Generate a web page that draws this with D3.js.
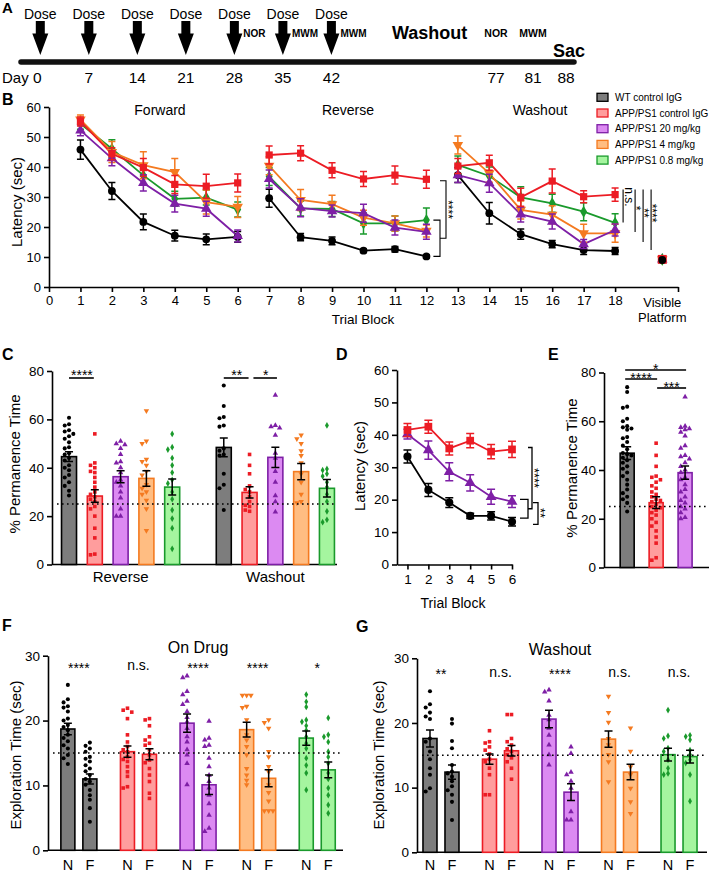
<!DOCTYPE html>
<html><head><meta charset="utf-8">
<script src="https://cdn.jsdelivr.net/npm/d3@7"></script>
<style>body{margin:0;background:#fff}</style>
</head><body>
<svg id="c" width="709" height="874"></svg>
<script>
// ================= DATA =================
const groupNames = ["WT control IgG","APP/PS1 control IgG","APP/PS1 20 mg/kg","APP/PS1 4 mg/kg","APP/PS1 0.8 mg/kg"];

// Panel A : timeline
const doseDays = [0,7,14,21,28,35,42];
const dayTicks = [0,7,14,21,28,35,42,77,81,88];
const onDrugTests = ["NOR","MWM","MWM"];
const onDrugTestDays = [28,35,42];
const washTests = ["NOR","MWM"];
const washTestDays = [77,81];

// Panel B : latency per trial block
const trialBlocks = [1,2,3,4,5,6,7,8,9,10,11,12,13,14,15,16,17,18];
const trialTicks = [0,1,2,3,4,5,6,7,8,9,10,11,12,13,14,15,16,17,18,20];
const latWT   = [45.8,32.0,21.7,17.1,15.9,16.7, 29.6,16.6,15.4,12.1,12.6,10.2, 37.3,24.6,17.6,14.3,12.3,12.0];
const latCtrl = [55.2,44.4,39.8,34.2,33.6,34.7, 44.0,44.6,38.9,36.0,37.3,35.9, 40.3,41.4,29.9,35.3,30.1,30.8];
const lat20   = [52.2,42.9,34.7,27.8,26.1,17.0, 36.0,26.4,25.3,24.6,19.8,18.4, 37.3,34.6,24.2,21.8,14.3,19.0];
const lat4    = [55.8,45.0,40.6,38.3,28.3,26.7, 40.4,29.0,27.6,23.1,21.2,18.7, 47.3,37.9,25.7,24.1,17.9,17.9];
const lat08   = [54.4,46.1,37.2,29.4,29.8,25.8, 36.8,26.2,26.0,21.2,21.2,22.3, 40.7,37.0,29.9,27.9,25.1,21.4];
const semWT   = [3.2,2.8,2.6,1.8,1.8,1.8, 3.0,1.2,1.3,0.6,0.9,0.5, 2.5,3.6,1.7,1.2,1.5,1.2];
const semCtrl = [1.5,2.0,3.0,3.0,4.0,3.0, 3.0,2.5,2.5,2.5,3.0,3.0, 2.5,2.5,3.0,4.0,2.0,2.2];
const sem20   = [1.8,2.5,2.7,2.8,2.5,2.0, 3.0,3.0,2.0,3.0,2.5,2.5, 2.5,3.0,2.5,2.5,1.5,2.0];
const sem4    = [1.5,3.5,4.5,4.5,4.0,3.5, 3.0,3.5,3.0,2.5,2.5,2.0, 3.0,3.0,3.0,3.0,3.0,3.0];
const sem08   = [1.8,3.0,3.0,2.5,2.5,2.5, 3.0,2.5,2.5,3.5,2.5,4.0, 3.0,3.0,3.5,3.0,3.0,3.0];
const visiblePlatform = [9.0,9.2,9.2,9.2,9.2];
const bSessions = ["Forward","Reverse","Washout"];
const bSessionBlocks = [[1,6],[7,12],[13,18]];
const bWashSig = ["n.s.","*","**","****"];

// Panel C : % permanence time
const cPhases = ["Reverse","Washout"];
const cMeansRev  = [44.6,28.3,36.3,35.6,32.0];
const cSemRev    = [2.0,2.6,2.5,3.2,3.3];
const cMeansWash = [48.4,29.8,44.3,38.4,31.5];
const cSemWash   = [3.9,2.3,4.2,3.4,3.6];
const cPtsRev = [
  [60.7,58,57.5,55.5,55,54,53,52,50.5,48.5,48,46,45.5,44,43,41,40,39,37,36,34,32.5,30.5,28.5],
  [54,42,41,40,38.5,38,36,34,32,30,29,28,27,26,24,23,20,15,11,4.3,4],
  [51,50,49.5,48,45.5,42.5,42,40,38,35,34,32.5,30,27.5,23,20,20],
  [63.5,51,50,43.5,42.5,41,38.5,37,33,31.5,30,29,26.5,23,14],
  [54,48.5,47.5,44,41,38,35,33.5,30,27,22.5,19,15,6.5]
];
const cPtsWash = [
  [74,65.5,61,60.5,57.5,57,48,47,45.5,45,37.5,33,31.5,22.5],
  [45.5,41,37.5,32.5,31,30,28,26,24.5,24,22.5,22],
  [70,57.5,57,56.5,53.5,46,44,38.5,34,28.5,26,21.7],
  [53.5,52,50,47,45,42,37.5,34,29,26,25.5],
  [57.5,39.5,39,37.5,36.5,34,32,29,26,22,18.5,17.5]
];

// Panel D : latency (3 groups)
const dBlocks = [1,2,3,4,5,6];
const dWT   = [33.3,23.0,19.1,15.0,15.0,13.2];
const dCtrl = [41.5,42.5,35.8,38.2,34.8,35.5];
const d20   = [40.2,35.3,28.6,25.2,20.9,19.4];
const dSemWT   = [2.0,2.0,1.5,0.8,1.3,1.3];
const dSemCtrl = [2.0,2.0,2.0,2.2,2.2,2.5];
const dSem20   = [1.5,2.8,2.8,2.5,2.3,1.8];

// Panel E : % permanence time (3 groups)
const eMeans = [46.9,26.6,38.9];
const eSem   = [2.6,2.4,2.7];
const ePts = [
  [74,72,66,65.5,61,60,58,57.5,57,56.5,53.5,53,51.5,50,48.5,47,46.5,46,45,44,43,41.5,40.5,39,37.5,36,34,32,30.5,29,28,26.5,23],
  [51,46,41.5,37.5,37,36,35,33.5,32.5,31,30,29,28,27.5,27,26,25,24.5,23.5,22.5,21.5,20,18.5,17,15,12.5,10,4,3],
  [70,58,57.5,57,56.5,55.5,54,50,49,46,45.5,44.5,43,41.5,40,39,37,36,34,32,31,29,27.5,26.5,25,24,22.5,20.5,20]
];
const eSig = ["*","****","***"];

// Panels F and G : exploration time, N (novel) / F (familiar)
const objLabels = ["N","F"];
const fMeansN = [18.7,15.2,19.6,18.6,17.3];
const fMeansF = [11.0,14.8,10.1,11.1,12.4];
const fSemN = [0.9,0.87,1.4,1.15,1.1];
const fSemF = [0.77,0.85,1.5,1.3,1.2];
const fSig = ["****","n.s.","****","****","*"];
const fPtsN = [
  [25.5,23.3,22.8,22.2,22,21.4,20.3,20,19.3,19,18.5,17.8,17.3,16.8,16.2,15.7,14.7,14.2,13.3],
  [21.9,21.6,21.3,20.3,17.8,16.7,16,15.5,15.2,14.4,14,13.7,12.9,12.1,11.4,9.8,9.6],
  [26.9,26.6,24.5,24,23,22.5,21.4,20.5,19.8,18.8,17.5,16.7,15.5,14.7,13.4,10.1],
  [23.9,23.9,23.9,22.2,22,20.1,17.8,17,16,14.7,12.6,11.6,10.8,10.1],
  [24,22.9,22.1,20.1,19.8,19.2,18.5,17.5,16.5,15.7,14.2,13.1,11.9,9.3]
];
const fPtsF = [
  [16.6,16.1,15.7,15.2,14.4,14.1,13.7,13.1,12.6,12.2,11.6,11,10.6,10.1,9.3,8.5,7.8,6.5,4.4],
  [20.3,20.1,19.2,17.5,17,16.5,16.2,15.5,14.7,13.9,13.5,12.6,11.6,10.6,8.8,8],
  [19.9,17.3,17,16.2,16,14.2,12.9,11.6,10.6,9.6,8.5,7.2,5.4,3.4,2.9],
  [20.1,19.7,18.8,15.2,14.4,12.9,12.1,10.1,8.9,7.6,6.1,6.1,6.1],
  [20.4,17.8,17.5,16.7,15.2,14.4,13.4,11.9,11,9.6,8.5,7,5.7]
];
const gMeansN = [17.6,14.4,20.6,17.5,15.1];
const gMeansF = [12.4,15.7,9.3,12.4,14.8];
const gSemN = [1.3,0.8,1.35,1.25,1.0];
const gSemF = [1.1,0.8,1.3,1.2,1.0];
const gSig = ["**","n.s.","****","n.s.","n.s."];
const gPtsN = [
  [24.9,22.9,22.4,21.6,21,20.6,17.6,17.1,15.6,14.4,13,12,9.9,9.4],
  [18.8,17.1,16.9,16.3,15.8,15.2,14.4,14,13,12,8.9,8.9],
  [25.1,24.8,23.4,21.2,20.5,19.2,18.1,16.6,15.1,13.5],
  [24.1,21.6,20.1,17.6,16.6,15.1,14,10.9],
  [22,18,17.6,16.1,15.6,14.3,13,12.2,12]
];
const gPtsF = [
  [20.6,19.9,17.2,16.1,13.5,12.5,12.2,11.7,11,10.2,9.6,8.9,7.8,5],
  [21.3,21.3,17.6,17.1,16.6,16,15.6,15.1,14.6,14,13,11.3],
  [16.3,15.3,12.4,12,11,9.9,6.3,5,5],
  [19.2,15.6,13.2,12,9.9,7.8,6],
  [18.1,17.9,17.4,15.8,15.1,14.3,13.8,12,7.9]
];

// ================= STYLE =================
const FONT = '"Liberation Sans", Arial, Helvetica, sans-serif';
const strokeCol = ["#000000","#ec1c24","#7e1fa6","#f47a20","#1a9a2c"];
const fillCol   = ["#7d7d7d","#ff9d9d","#dc8af2","#ffbd82","#a5f59f"];
const symTypes = [d3.symbolCircle, d3.symbolSquare, d3.symbolTriangle, d3.symbolTriangle, d3.symbolDiamond];
const symRot = [0,0,0,180,0];

const svg = d3.select("#c").attr("font-family", FONT);

function text(g, x, y, s, o = {}) {
  const t = g.append("text").attr("x", x).attr("y", y).text(s)
    .attr("font-size", o.size || 13).attr("text-anchor", o.anchor || "middle")
    .attr("font-weight", o.weight || "normal").attr("fill", o.fill || "#000");
  if (o.rot !== undefined) t.attr("transform", `rotate(${o.rot},${x},${y})`);
  return t;
}
function sym(g, gi, x, y, size) {
  g.append("path").attr("d", d3.symbol().type(symTypes[gi]).size(size)())
    .attr("transform", `translate(${x},${y}) rotate(${symRot[gi]})`)
    .attr("fill", strokeCol[gi]);
}
function styleAxis(sel, fs) {
  sel.attr("font-family", FONT).attr("font-size", fs);
  sel.select(".domain").attr("stroke", "#000").attr("stroke-width", 1.6);
  sel.selectAll(".tick line").attr("stroke", "#000").attr("stroke-width", 1.6);
  sel.selectAll(".tick text").attr("fill", "#000");
}
function errBar(g, x, y, lo, hi, cap, color, w) {
  const p = `M${x - cap / 2},${y(hi)}H${x + cap / 2}M${x},${y(hi)}V${y(lo)}M${x - cap / 2},${y(lo)}H${x + cap / 2}`;
  g.append("path").attr("d", p).attr("stroke", color).attr("stroke-width", w || 1.5).attr("fill", "none");
}
function swarm(vals, y, cx, r, half) {
  const pts = vals.map(v => ({ v, y: y(v) })).sort((a, b) => a.y - b.y);
  const offs = [0];
  for (let k = 1; k * r <= half + 0.01; k++) offs.push(-k * r, k * r);
  const placed = [];
  for (const p of pts) {
    let best = null;
    for (const o of offs) {
      const x = cx + o;
      if (placed.every(q => (q.x - x) ** 2 + (q.y - p.y) ** 2 >= r * r * 0.9)) { best = x; break; }
    }
    if (best === null) {
      let bo = 0, bd = -1;
      for (const o of offs) {
        const x = cx + o;
        const d = Math.min(...placed.map(q => (q.x - x) ** 2 + (q.y - p.y) ** 2));
        if (d > bd) { bd = d; bo = o; }
      }
      best = cx + bo;
    }
    p.x = best; placed.push(p);
  }
  return placed;
}
function bar(g, gi, x, y, mean, sem, pts, bw) {
  g.append("rect").attr("x", x - bw / 2).attr("y", y(mean)).attr("width", bw)
    .attr("height", y(0) - y(mean)).attr("fill", fillCol[gi])
    .attr("stroke", strokeCol[gi]).attr("stroke-width", 1.6);
  swarm(pts, y, x, 4.3, bw / 2 + 1.5).forEach(p => sym(g, gi, p.x, p.y, 13));
  errBar(g, x, y, mean - sem, mean + sem, 8, "#000", 1.5);
}
function dotted(g, x1, x2, yv) {
  g.append("line").attr("x1", x1).attr("x2", x2).attr("y1", yv).attr("y2", yv)
    .attr("stroke", "#000").attr("stroke-width", 1.6).attr("stroke-dasharray", "1.6,3.4");
}
function pathD(g, d, w) {
  g.append("path").attr("d", d).attr("stroke", "#000").attr("stroke-width", w || 1.1).attr("fill", "none");
}

// ================= PANEL A =================
{
  const g = svg.append("g");
  const xA = d3.scaleLinear().domain([0, 42, 77, 81, 88]).range([40.3, 331.4, 496, 533, 566]);
  text(g, 2, 13, "A", { size: 15, anchor: "start", weight: "bold" });
  g.append("line").attr("x1", 21).attr("x2", 574).attr("y1", 62).attr("y2", 62)
    .attr("stroke", "#111").attr("stroke-width", 5.5).attr("stroke-linecap", "round");
  doseDays.forEach(d => {
    const x = xA(d);
    text(g, x, 19, "Dose", { size: 14 });
    g.append("path").attr("d", `M${x - 4.5},21H${x + 4.5}V33.5H${x + 8}L${x},55L${x - 8},33.5H${x - 4.5}Z`).attr("fill", "#000");
  });
  onDrugTests.forEach((s, i) => text(g, xA(onDrugTestDays[i]) + 9, 37, s, { size: 10, anchor: "start", weight: "bold" }));
  washTests.forEach((s, i) => text(g, xA(washTestDays[i]), 37, s, { size: 10.5, weight: "bold" }));
  text(g, (xA(42) + xA(77)) / 2 + 16, 38.5, "Washout", { size: 18, weight: "bold" });
  text(g, xA(88) + 3, 57, "Sac", { size: 18, weight: "bold" });
  text(g, 2, 83, "Day", { size: 15, anchor: "start" });
  dayTicks.forEach(d => text(g, d === 0 ? xA(d) - 3 : xA(d), 83, String(d), { size: 15.5 }));
}

// ================= PANEL B =================
{
  const g = svg.append("g");
  const x = d3.scaleLinear().domain([0, 20]).range([49, 678]);
  const y = d3.scaleLinear().domain([0, 60]).range([287, 107]);
  text(g, 2, 105, "B", { size: 16, anchor: "start", weight: "bold" });
  const ax = g.append("g").attr("transform", "translate(0,287)")
    .call(d3.axisBottom(x).tickValues(trialTicks).tickFormat(d => d === 20 ? "" : d).tickSize(5).tickSizeOuter(0).tickPadding(4));
  styleAxis(ax, 13);
  const ay = g.append("g").attr("transform", "translate(49,0)")
    .call(d3.axisLeft(y).ticks(6).tickSize(5).tickSizeOuter(0).tickPadding(3));
  styleAxis(ay, 13);
  text(g, x(19.5), 307, "Visible", { size: 13 });
  text(g, x(19.5), 322, "Platform", { size: 13 });
  text(g, 363, 324, "Trial Block", { size: 13.5 });
  text(g, 22, 202, "Latency (sec)", { size: 15, rot: -90 });
  const sessX = [160, 348, 540];
  bSessions.forEach((s, i) => text(g, sessX[i], 115, s, { size: 14 }));

  const series = [latWT, latCtrl, lat20, lat4, lat08];
  const sems = [semWT, semCtrl, sem20, sem4, sem08];
  const order = [0, 4, 3, 2, 1];
  const line = d3.line().x(d => x(d[0])).y(d => y(d[1]));
  order.forEach(gi => {
    bSessionBlocks.forEach(([a, b]) => {
      const seg = trialBlocks.map((t, i) => [t, series[gi][i]]).filter(d => d[0] >= a && d[0] <= b);
      g.append("path").attr("d", line(seg)).attr("stroke", strokeCol[gi]).attr("stroke-width", 1.8).attr("fill", "none");
    });
  });
  order.forEach(gi => {
    trialBlocks.forEach((t, i) => {
      const v = series[gi][i], s = sems[gi][i];
      errBar(g, x(t), y, v - s, v + s, 7, strokeCol[gi], 1.5);
      sym(g, gi, x(t), y(v), gi === 1 ? 52 : (gi === 4 ? 42 : 48));
    });
  });
  [2, 3, 4, 1, 0].forEach(gi => sym(g, gi, x(19.5), y(visiblePlatform[gi]), gi === 1 ? 80 : 48));

  // brackets at block 12
  const x12 = x(12);
  const yS1 = y(lat08[11]), yS2 = y(latWT[11]);
  pathD(g, `M${x12 + 7},${yS1}H${x12 + 13.6}V${yS2}H${x12 + 7}`);
  const yMid = (yS1 + yS2) / 2;
  pathD(g, `M${x12 + 13.6},${y(35.4)}H${x12 + 19.6}V${yMid}H${x12 + 13.6}`);
  text(g, x12 + 18, (y(35.4) + yMid) / 2, "****", { size: 12, rot: 90 });
  // washout lines at block 18
  const x18 = x(18);
  const offs = [8, 20, 28, 36];
  const bottoms = [21.5, 18.3, 15.0, 12.3];
  const labY = [197, 208, 213, 213];
  offs.forEach((o, i) => {
    pathD(g, `M${x18 + o},${y(32.5)}V${y(bottoms[i])}`);
    text(g, x18 + o + (i === 0 ? 2 : -3), labY[i], bWashSig[i], { size: 12, rot: 90 });
  });

  // legend
  groupNames.forEach((n, i) => {
    const ly = 97.3 + i * 15.7;
    g.append("rect").attr("x", 597).attr("y", ly - 4).attr("width", 11).attr("height", 8)
      .attr("fill", fillCol[i]).attr("stroke", strokeCol[i]).attr("stroke-width", 1.3);
    text(g, 615, ly + 3.5, n, { size: 10, anchor: "start" });
  });
}

// ================= PANEL C =================
{
  const g = svg.append("g");
  const xs = d3.scaleLinear().domain([-0.66, 10.39]).range([52, 337]);
  const y = d3.scaleLinear().domain([0, 80]).range([564.5, 371]);
  text(g, 2, 360, "C", { size: 16, anchor: "start", weight: "bold" });
  g.append("line").attr("x1", 52).attr("x2", 337).attr("y1", 564.5).attr("y2", 564.5).attr("stroke", "#000").attr("stroke-width", 1.6);
  const ay = g.append("g").attr("transform", "translate(52,0)")
    .call(d3.axisLeft(y).tickValues([0, 20, 40, 60, 80]).tickSize(5).tickSizeOuter(0).tickPadding(3));
  styleAxis(ay, 13.5);
  text(g, 20, 464, "% Permanence Time", { size: 15, rot: -90 });
  cPhases.forEach((p, k) => {
    const means = k === 0 ? cMeansRev : cMeansWash;
    const sems = k === 0 ? cSemRev : cSemWash;
    const pts = k === 0 ? cPtsRev : cPtsWash;
    means.forEach((m, gi) => bar(g, gi, xs(k * 6 + gi), y, m, sems[gi], pts[gi], 15));
    text(g, xs(k * 6 + 2), 582, p, { size: 15 });
  });
  dotted(g, 57, 336, y(25));
  // significance
  const sigs = [["****", 0, 1], ["**", 6, 7], ["*", 7.15, 8.1]];
  sigs.forEach(([s, a, b]) => {
    const xa = xs(a), xb = xs(b);
    g.append("line").attr("x1", xa).attr("x2", xb - 1).attr("y1", 378).attr("y2", 378).attr("stroke", "#000").attr("stroke-width", 1.6);
    text(g, (xa + xb) / 2, 379.5, s, { size: 14 });
  });
}

// ================= PANEL D =================
{
  const g = svg.append("g");
  const x = d3.scaleLinear().domain([0.5, 6]).range([397, 512]);
  const y = d3.scaleLinear().domain([0, 60]).range([564.5, 370]);
  text(g, 336, 360, "D", { size: 16, anchor: "start", weight: "bold" });
  const ax = g.append("g").attr("transform", "translate(0,564.5)")
    .call(d3.axisBottom(x).tickValues(dBlocks).tickFormat(d3.format("d")).tickSize(5).tickSizeOuter(0).tickPadding(5));
  styleAxis(ax, 13.5);
  const ay = g.append("g").attr("transform", "translate(397,0)")
    .call(d3.axisLeft(y).ticks(6).tickSize(5).tickSizeOuter(0).tickPadding(3));
  styleAxis(ay, 13.5);
  text(g, 453, 608, "Trial Block", { size: 14 });
  text(g, 365, 466, "Latency (sec)", { size: 15, rot: -90 });
  const series = [dWT, dCtrl, d20];
  const sems = [dSemWT, dSemCtrl, dSem20];
  const line = d3.line().x((d, i) => x(dBlocks[i])).y(d => y(d));
  [0, 2, 1].forEach(gi => g.append("path").attr("d", line(series[gi])).attr("stroke", strokeCol[gi]).attr("stroke-width", 1.8).attr("fill", "none"));
  [0, 2, 1].forEach(gi => dBlocks.forEach((t, i) => {
    const v = series[gi][i];
    errBar(g, x(t), y, v - sems[gi][i], v + sems[gi][i], 8, strokeCol[gi], 1.5);
    sym(g, gi, x(t), y(v), gi === 1 ? 60 : 52);
  }));
  // brackets
  const yS1 = y(20.1), yS2 = y(14.3), yMid = (yS1 + yS2) / 2;
  pathD(g, `M520,${yS1}H528V${yS2}H520`, 1.3);
  pathD(g, `M528,${y(36.1)}H532V${yMid}H528`, 1.3);
  pathD(g, `M533,${y(19.1)}H538V${y(12.4)}H533`, 1.3);
  text(g, 530, 478, "****", { size: 13, rot: 90 });
  text(g, 536, 513, "**", { size: 13, rot: 90 });
}

// ================= PANEL E =================
{
  const g = svg.append("g");
  const xs = d3.scaleLinear().domain([-0.8, 2.86]).range([604, 710]);
  const y = d3.scaleLinear().domain([0, 80]).range([567.5, 372.5]);
  text(g, 548, 360, "E", { size: 16, anchor: "start", weight: "bold" });
  g.append("line").attr("x1", 604).attr("x2", 709).attr("y1", 567.5).attr("y2", 567.5).attr("stroke", "#000").attr("stroke-width", 1.6);
  const ay = g.append("g").attr("transform", "translate(604,0)")
    .call(d3.axisLeft(y).tickValues([0, 20, 40, 60, 80]).tickSize(5).tickSizeOuter(0).tickPadding(3));
  styleAxis(ay, 13.5);
  text(g, 577, 468, "% Permanence Time", { size: 15, rot: -90 });
  eMeans.forEach((m, gi) => bar(g, gi, xs(gi), y, m, eSem[gi], ePts[gi], 14));
  dotted(g, 609, 709, y(25));
  const sig = [[0, 2, 370, 374], [0, 1, 379, 383], [1, 2, 388, 392]];
  sig.forEach(([a, b, ly, ty], i) => {
    const xa = xs(a) - (a === 0 ? 2 : -1), xb = xs(b) + 1;
    g.append("line").attr("x1", xa).attr("x2", xb).attr("y1", ly).attr("y2", ly).attr("stroke", "#000").attr("stroke-width", 1.6);
    text(g, (xa + xb) / 2, ty, eSig[i], { size: 14 });
  });
}

// ================= PANELS F & G =================
function novelty(opts) {
  const g = svg.append("g");
  const xs = d3.scaleLinear().domain(opts.dom).range(opts.rng);
  const y = d3.scaleLinear().domain([0, 30]).range(opts.yr);
  text(g, opts.lx, opts.ly, opts.letter, { size: 16, anchor: "start", weight: "bold" });
  g.append("line").attr("x1", opts.rng[0]).attr("x2", opts.rng[1]).attr("y1", opts.yr[0]).attr("y2", opts.yr[0]).attr("stroke", "#000").attr("stroke-width", 1.6);
  const ay = g.append("g").attr("transform", `translate(${opts.rng[0]},0)`)
    .call(d3.axisLeft(y).tickValues([0, 10, 20, 30]).tickSize(5).tickSizeOuter(0).tickPadding(3));
  styleAxis(ay, 13.5);
  text(g, opts.ylx, 755, "Exploration Time (sec)", { size: 15, rot: -90 });
  text(g, xs(2), opts.titleY, opts.title, { size: 16 });
  const off = 11 / opts.step;
  opts.mN.forEach((m, gi) => {
    bar(g, gi, xs(gi - off), y, m, opts.sN[gi], opts.pN[gi], 14);
    bar(g, gi, xs(gi + off), y, opts.mF[gi], opts.sF[gi], opts.pF[gi], 14);
    text(g, xs(gi - off), 869.5, objLabels[0], { size: 14.5 });
    text(g, xs(gi + off), 869.5, objLabels[1], { size: 14.5 });
    const s = opts.sig[gi];
    text(g, xs(gi), s === "n.s." ? opts.nsY : opts.starY, s, { size: 14 });
  });
  dotted(g, opts.rng[0] + 5, opts.rng[1] - 2, y(15));
}
novelty({ letter: "F", lx: 2, ly: 631, dom: [-0.518, 4.432], rng: [48, 343], yr: [850.3, 655.7], step: 59.6,
  ylx: 21, title: "On Drug", titleY: 653, mN: fMeansN, mF: fMeansF, sN: fSemN, sF: fSemF, pN: fPtsN, pF: fPtsF,
  sig: fSig, starY: 673, nsY: 670 });
novelty({ letter: "G", lx: 356, ly: 632, dom: [-0.403, 4.47], rng: [417, 707], yr: [852.3, 658.3], step: 59.5,
  ylx: 384, title: "Washout", titleY: 655, mN: gMeansN, mF: gMeansF, sN: gSemN, sF: gSemF, pN: gPtsN, pF: gPtsF,
  sig: gSig, starY: 679, nsY: 677 });
</script>
</body></html>
